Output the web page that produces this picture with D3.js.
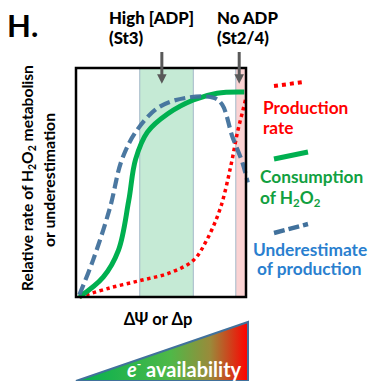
<!DOCTYPE html>
<html>
<head>
<meta charset="utf-8">
<script src="https://cdn.jsdelivr.net/npm/d3@7"></script>
<style>
  body { margin: 0; background: #fff; }
  svg text { font-family: Lato, "Open Sans", sans-serif; font-weight: bold; }
</style>
</head>
<body>
<div id="chart"></div>
<script>
// curves (x: 0..1 along ΔΨ, y: 0..1 relative rate)
var productionX = [0.02, 0.20, 0.39, 0.55, 0.69, 0.77, 0.85, 0.91, 0.95, 0.98, 1.0];
var productionY = [0.0, 0.04, 0.074, 0.105, 0.16, 0.25, 0.39, 0.57, 0.72, 0.81, 0.87];

var consumptionX = [0.02, 0.16, 0.25, 0.31, 0.35, 0.42, 0.54, 0.69, 0.83, 0.99];
var consumptionY = [0.0, 0.087, 0.205, 0.42, 0.60, 0.72, 0.80, 0.86, 0.89, 0.895];

var underX = [0.02, 0.10, 0.20, 0.27, 0.36, 0.49, 0.65, 0.81, 0.86, 0.92, 0.98, 1.01];
var underY = [0.01, 0.16, 0.39, 0.60, 0.73, 0.83, 0.87, 0.87, 0.84, 0.70, 0.585, 0.50];

// shaded states
var bandNames = ['High [ADP]', 'No ADP'];
var bandSub = ['(St3)', '(St2/4)'];
var bandFrom = [0.375, 0.94];
var bandTo = [0.69, 1.0];
var bandArrowX = [0.505, 0.96];

var legendNames = [['Production', 'rate'], ['Consumption', 'of H\u2082O\u2082'], ['Underestimate', 'of production']];

var W = 371, H = 381;
var svg = d3.select('#chart').append('svg')
    .attr('width', W)
    .attr('height', H);

var x = d3.scaleLinear().domain([0, 1]).range([76, 246]);
var y = d3.scaleLinear().domain([0, 1]).range([297, 68]);

var defs = svg.append('defs');
var grad = defs.append('linearGradient').attr('id', 'egrad');
grad.append('stop').attr('offset', '0%').attr('stop-color', '#00b050');
grad.append('stop').attr('offset', '55%').attr('stop-color', '#4fb848');
grad.append('stop').attr('offset', '78%').attr('stop-color', '#9a8a3a');
grad.append('stop').attr('offset', '100%').attr('stop-color', '#ff0000');

var arrowHead = defs.append('marker')
    .attr('id', 'ah')
    .attr('viewBox', '0 0 10 10')
    .attr('refX', 6).attr('refY', 5)
    .attr('markerWidth', 3.2).attr('markerHeight', 3.2)
    .attr('orient', 'auto');
arrowHead.append('path').attr('d', 'M0,0L10,5L0,10Z').attr('fill', '#595959');

// bands
var bandFill = ['#c5ead5', '#fbd3d3'];
svg.selectAll('rect.band').data(bandFrom).enter().append('rect')
    .attr('class', 'band')
    .attr('x', function (d) { return x(d); })
    .attr('y', y(1))
    .attr('width', function (d, i) { return x(bandTo[i]) - x(d); })
    .attr('height', y(0) - y(1))
    .attr('fill', function (d, i) { return bandFill[i]; })
    .attr('stroke', '#a3b8c8')
    .attr('stroke-width', 1);

// lines
var line = d3.line()
    .x(function (d) { return x(d[0]); })
    .y(function (d) { return y(d[1]); })
    .curve(d3.curveCatmullRom.alpha(0.5));

function pts(xs, ys) {
    return xs.map(function (v, i) { return [v, ys[i]]; });
}

svg.append('path')
    .attr('d', line(pts(productionX, productionY)))
    .attr('fill', 'none')
    .attr('stroke', '#ff0000')
    .attr('stroke-width', 3.5)
    .attr('stroke-dasharray', '3.5,3.5');

svg.append('path')
    .attr('d', line(pts(consumptionX, consumptionY)))
    .attr('fill', 'none')
    .attr('stroke', '#00b050')
    .attr('stroke-width', 5);

svg.append('path')
    .attr('d', line(pts(underX, underY)))
    .attr('fill', 'none')
    .attr('stroke', '#41719c')
    .attr('stroke-opacity', 0.95)
    .attr('stroke-width', 4.2)
    .attr('stroke-dasharray', '11,5');

// frame
svg.append('rect')
    .attr('x', x(0)).attr('y', y(1))
    .attr('width', x(1) - x(0)).attr('height', y(0) - y(1))
    .attr('fill', 'none')
    .attr('stroke', '#000')
    .attr('stroke-width', 2.5);

// arrows + labels
svg.selectAll('line.arr').data(bandArrowX).enter().append('line')
    .attr('x1', function (d) { return x(d); })
    .attr('x2', function (d) { return x(d); })
    .attr('y1', 52).attr('y2', 80)
    .attr('stroke', '#595959')
    .attr('stroke-width', 3)
    .attr('marker-end', 'url(#ah)');

var labelX = [109, 217];
bandNames.forEach(function (n, i) {
    var t = svg.append('text')
        .attr('x', labelX[i]).attr('y', 24)
        .attr('font-size', 16.8).attr('fill', '#000')
        .style('font-weight', 900);
    t.append('tspan').attr('x', labelX[i]).text(n);
    t.append('tspan').attr('x', labelX[i]).attr('dy', 20).text(bandSub[i]);
});

svg.append('text')
    .attr('x', 7).attr('y', 37)
    .attr('font-size', 31)
    .attr('fill', '#000')
    .text('H.');

// y label
var yl = svg.append('text')
    .attr('transform', 'translate(33,178) rotate(-90)')
    .attr('text-anchor', 'middle')
    .attr('font-size', 15.6)
    .attr('fill', '#000');
yl.append('tspan').attr('x', 0).text('Relative rate of H');
yl.append('tspan').attr('font-size', 10.5).attr('dy', 3).text('2');
yl.append('tspan').attr('dy', -3).text('O');
yl.append('tspan').attr('font-size', 10.5).attr('dy', 3).text('2');
yl.append('tspan').attr('dy', -3).text(' metabolisn');
svg.append('text')
    .attr('transform', 'translate(55,180) rotate(-90)')
    .attr('text-anchor', 'middle')
    .attr('font-size', 15.8)
    .attr('fill', '#000')
    .text('or underestimation');

// x label
svg.append('text')
    .attr('x', 158).attr('y', 325)
    .attr('text-anchor', 'middle')
    .attr('font-size', 16.5)
    .attr('fill', '#000')
    .text('\u0394\u03a8 or \u0394p');

// electron availability wedge
svg.append('path')
    .attr('d', 'M' + x(0) + ',381L' + 248 + ',322L248,381Z')
    .attr('fill', 'url(#egrad)')
    .attr('stroke', '#41719c')
    .attr('stroke-width', 2);

var et = svg.append('text')
    .attr('x', 127).attr('y', 377)
    .attr('font-size', 20)
    .attr('fill', '#fff');
et.append('tspan').attr('font-style', 'italic').text('e');
et.append('tspan').attr('font-size', 12).attr('dy', -9).text('-');
et.append('tspan').attr('dy', 9).text(' availability');

// legend
var legColor = ['#ff0000', '#11a040', '#2a7fcf'];
var legLine = ['#ff0000', '#00b050', '#41719c'];
var legDash = ['4,4', null, '11,4'];
var legWidth = [4, 5, 4.5];
var legSeg = [[274, 86, 304, 82], [274, 159, 308, 152], [274, 233, 308, 224]];
var legTextX = [263, 260, 253];
var legTextY = [114, 183, 256];
var legLineGap = [20, 21, 19];

legendNames.forEach(function (n, i) {
    var s = legSeg[i];
    svg.append('line')
        .attr('x1', s[0]).attr('y1', s[1])
        .attr('x2', s[2]).attr('y2', s[3])
        .attr('stroke', legLine[i])
        .attr('stroke-width', legWidth[i])
        .attr('stroke-dasharray', legDash[i]);

    var t = svg.append('text')
        .attr('x', legTextX[i]).attr('y', legTextY[i])
        .attr('font-size', 17.3)
        .attr('fill', legColor[i]);
    t.append('tspan').attr('x', legTextX[i]).text(n[0]);
    if (i === 1) {
        var t2 = svg.append('text')
            .attr('x', legTextX[i]).attr('y', legTextY[i] + legLineGap[i])
            .attr('font-size', 17.3)
            .attr('fill', legColor[i]);
        t2.append('tspan').text('of H');
        t2.append('tspan').attr('font-size', 11.5).attr('dy', 3).text('2');
        t2.append('tspan').attr('dy', -3).text('O');
        t2.append('tspan').attr('font-size', 11.5).attr('dy', 3).text('2');
    } else {
        t.append('tspan').attr('x', i === 2 ? 257 : legTextX[i]).attr('dy', legLineGap[i]).text(n[1]);
    }
});
</script>
</body>
</html>
